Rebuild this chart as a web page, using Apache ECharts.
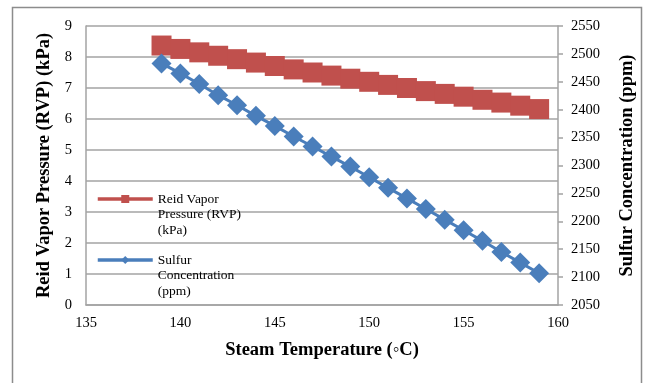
<!DOCTYPE html>
<html>
<head>
<meta charset="utf-8">
<script src="https://cdn.jsdelivr.net/npm/echarts@6/dist/echarts.min.js"></script>
<style>
  html, body { margin: 0; padding: 0; background: #fff; overflow: hidden; }
  #chart { width: 645px; height: 383px; }
</style>
</head>
<body>
<div id="chart"></div>
<script>
// Steam temperature (°C)
const temperatures = [139, 140, 141, 142, 143, 144, 145, 146, 147, 148, 149, 150, 151, 152, 153, 154, 155, 156, 157, 158, 159];
// Reid vapor pressure (kPa)
const rvp = [8.37, 8.26, 8.15, 8.04, 7.93, 7.82, 7.71, 7.60, 7.50, 7.40, 7.30, 7.20, 7.10, 7.00, 6.90, 6.81, 6.72, 6.62, 6.53, 6.43, 6.32];
// Sulfur concentration (ppm)
const sulfur = [2483, 2465, 2446, 2426, 2408, 2389, 2371, 2352, 2334, 2316, 2298, 2279, 2260, 2241, 2222, 2203, 2184, 2165, 2145, 2126, 2107];

const rvpName = 'Reid Vapor Pressure (RVP) (kPa)';
const sulfurName = 'Sulfur Concentration (ppm)';
// Legend entries wrap onto three lines; two leading blank lines keep the
// icon level with the first line (the text block is centred on the icon).
const legendText = {};
legendText[rvpName] = '\n\nReid Vapor\nPressure (RVP)\n(kPa)';
legendText[sulfurName] = '\n\nSulfur\nConcentration\n(ppm)';

const serif = '"Liberation Serif", "DejaVu Serif", serif';
const red = '#C0504D';
const blue = '#4A7EBB';
const gridGrey = '#a3a3a3';
const lineH = 15.5;

const chart = echarts.init(document.getElementById('chart'), null, { renderer: 'canvas' });

const legendBase = {
  orient: 'vertical',
  left: 96,
  padding: 0,
  itemWidth: 55,
  itemHeight: 10,
  itemGap: 0,
  lineStyle: { width: 3.5 },
  formatter: (n) => legendText[n],
  textStyle: {
    fontFamily: serif,
    fontSize: 13.5,
    color: '#000',
    lineHeight: lineH
  }
};

const titleStyle = { fontFamily: serif, fontSize: 18.5, fontWeight: 'bold', color: '#000' };
const labelStyle = { fontFamily: serif, fontSize: 14.5, color: '#000' };

chart.setOption({
  animation: false,
  backgroundColor: '#fff',
  graphic: [{
    type: 'rect',
    shape: { x: 12.5, y: 7.5, width: 629, height: 400 },
    style: { fill: 'none', stroke: '#8c8c8c', lineWidth: 1.5 },
    silent: true,
    z: -10
  }],
  grid: { left: 86, right: 73, top: 26, bottom: 78, containLabel: false },
  legend: [
    Object.assign({}, legendBase, { data: [rvpName], top: 199 - 2.5 * lineH }),
    Object.assign({}, legendBase, { data: [sulfurName], top: 260 - 2.5 * lineH })
  ],
  xAxis: {
    type: 'value',
    min: 135, max: 160, interval: 5,
    name: 'Steam Temperature (◦C)',
    nameLocation: 'middle',
    nameGap: 36,
    nameTextStyle: titleStyle,
    axisLine: { show: true, lineStyle: { color: gridGrey, width: 1.5 } },
    axisTick: { show: false },
    axisLabel: Object.assign({ margin: 11 }, labelStyle),
    splitLine: { show: false }
  },
  yAxis: [{
    type: 'value',
    min: 0, max: 9, interval: 1,
    position: 'left',
    name: 'Reid Vapor Pressure (RVP) (kPa)',
    nameLocation: 'middle',
    nameGap: 30,
    nameTextStyle: titleStyle,
    axisLine: { show: true, lineStyle: { color: gridGrey, width: 1.5 } },
    axisTick: { show: false },
    axisLabel: Object.assign({ margin: 14 }, labelStyle),
    splitLine: { show: true, lineStyle: { color: gridGrey, width: 1.5 } }
  }, {
    type: 'value',
    min: 2050, max: 2550, interval: 50,
    position: 'right',
    name: 'Sulfur Concentration (ppm)',
    nameLocation: 'middle',
    nameGap: 60,
    nameRotate: 90,
    nameTextStyle: titleStyle,
    axisLine: { show: true, lineStyle: { color: gridGrey, width: 1.5 } },
    axisTick: { show: true, length: 5, inside: false, lineStyle: { color: gridGrey, width: 1.5 } },
    axisLabel: Object.assign({ margin: 13, formatter: (v) => String(v) }, labelStyle),
    splitLine: { show: false }
  }],
  series: [{
    name: rvpName,
    type: 'line',
    yAxisIndex: 0,
    data: temperatures.map((t, i) => [t, rvp[i]]),
    symbol: 'rect',
    symbolSize: 20,
    itemStyle: { color: red },
    lineStyle: { color: red, width: 3 },
    z: 2
  }, {
    name: sulfurName,
    type: 'line',
    yAxisIndex: 1,
    data: temperatures.map((t, i) => [t, sulfur[i]]),
    symbol: 'diamond',
    symbolSize: 20,
    itemStyle: { color: blue },
    lineStyle: { color: blue, width: 3 },
    z: 3
  }]
});
</script>
</body>
</html>
